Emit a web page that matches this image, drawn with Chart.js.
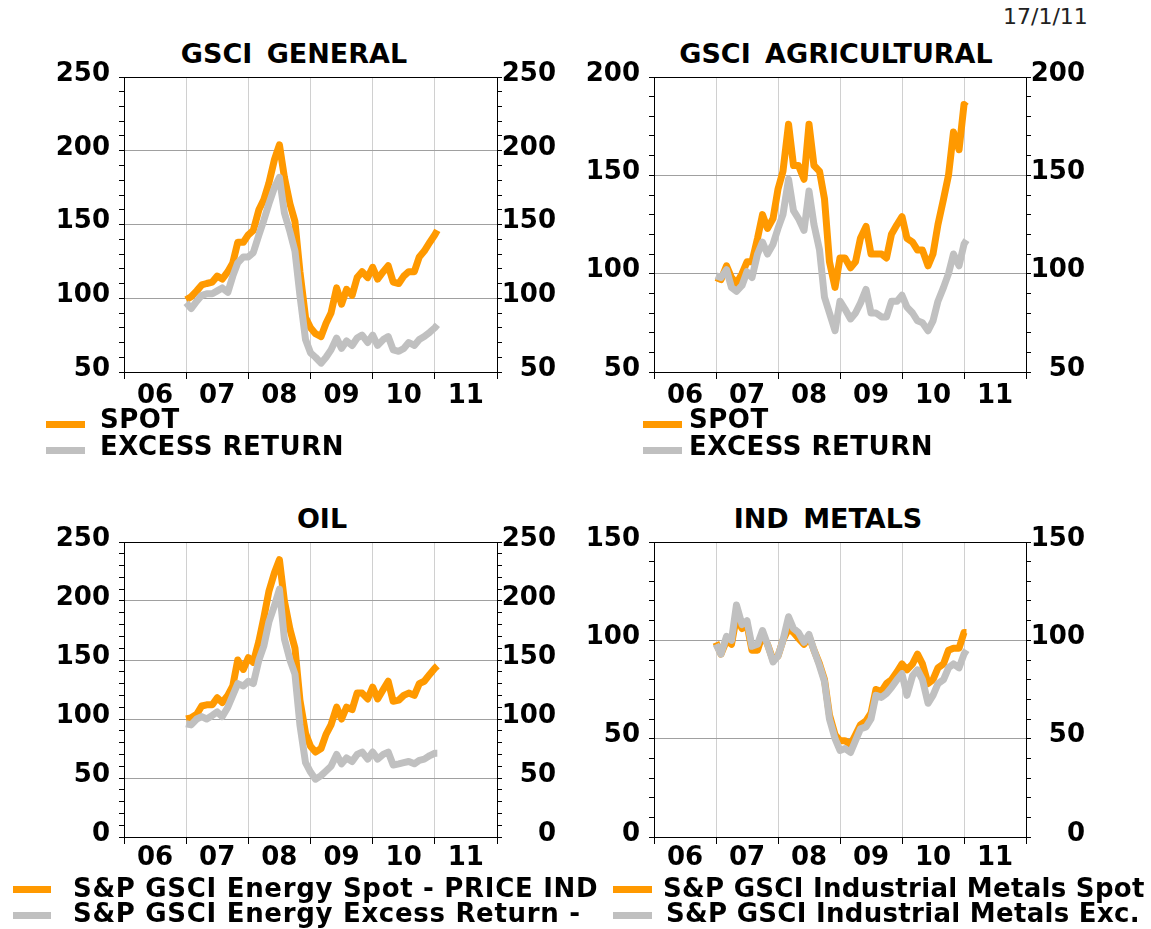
<!DOCTYPE html>
<html>
<head>
<meta charset="utf-8">
<script src="https://cdn.jsdelivr.net/npm/chart.js@4.4.0/dist/chart.umd.min.js"></script>
<style>
  body { margin:0; background:#fff; width:1151px; height:929px; position:relative; overflow:hidden; font-family:'DejaVu Sans', sans-serif; }
  canvas { position:absolute; }
  .title { position:absolute; width:500px; text-align:center; font-weight:bold; font-size:27px; line-height:27px; white-space:nowrap; word-spacing:5px; color:#000; }
  .lg { position:absolute; font-weight:bold; font-size:26px; line-height:26px; white-space:nowrap; letter-spacing:0.5px; color:#000; }
  .bar { position:absolute; height:7px; }
  .date { position:absolute; left:1003px; top:6px; font-size:22px; line-height:22px; color:#222; }
</style>
</head>
<body>
<div class="date">17/1/11</div>

<div class="title" style="left:44px;top:40px">GSCI GENERAL</div>
<div class="title" style="left:586px;top:40px">GSCI AGRICULTURAL</div>
<div class="title" style="left:72px;top:505px">OIL</div>
<div class="title" style="left:578px;top:505px">IND METALS</div>

<canvas id="cGen" width="575" height="380" style="left:0;top:40px"></canvas>
<canvas id="cAgr" width="576" height="380" style="left:575px;top:40px"></canvas>
<canvas id="cOil" width="575" height="380" style="left:0;top:505px"></canvas>
<canvas id="cMet" width="576" height="380" style="left:575px;top:505px"></canvas>

<!-- legends -->
<div class="bar" style="left:46px;top:421px;width:39px;background:#ff9900"></div>
<div class="lg" style="left:100px;top:406px">SPOT</div>
<div class="bar" style="left:46px;top:447px;width:39px;background:#c0c0c0"></div>
<div class="lg" style="left:100px;top:433px">EXCESS RETURN</div>

<div class="bar" style="left:643px;top:421px;width:39px;background:#ff9900"></div>
<div class="lg" style="left:689px;top:406px">SPOT</div>
<div class="bar" style="left:643px;top:447px;width:39px;background:#c0c0c0"></div>
<div class="lg" style="left:689px;top:433px">EXCESS RETURN</div>

<div class="bar" style="left:13px;top:886px;width:38px;background:#ff9900"></div>
<div class="lg" style="left:73px;top:875px;letter-spacing:0.7px">S&amp;P GSCI Energy Spot - PRICE IND</div>
<div class="bar" style="left:13px;top:912px;width:38px;background:#c0c0c0"></div>
<div class="lg" style="left:73px;top:900px;letter-spacing:0.7px">S&amp;P GSCI Energy Excess Return -</div>

<div class="bar" style="left:613px;top:886px;width:39px;background:#ff9900"></div>
<div class="lg" style="left:663px;top:875px;letter-spacing:0.3px">S&amp;P GSCI Industrial Metals Spot</div>
<div class="bar" style="left:613px;top:912px;width:39px;background:#c0c0c0"></div>
<div class="lg" style="left:666px;top:900px;letter-spacing:0.3px">S&amp;P GSCI Industrial Metals Exc.</div>

<script>
// monthly dates (decimal years), shared by all four panels
const months = [
  2007.00, 2007.08, 2007.17, 2007.25, 2007.33, 2007.42, 2007.50, 2007.58, 2007.67, 2007.75, 2007.83, 2007.92,
  2008.00, 2008.08, 2008.17, 2008.25, 2008.33, 2008.42, 2008.50, 2008.58, 2008.67, 2008.75, 2008.83, 2008.92,
  2009.00, 2009.08, 2009.17, 2009.25, 2009.33, 2009.42, 2009.50, 2009.58, 2009.67, 2009.75, 2009.83, 2009.92,
  2010.00, 2010.08, 2010.17, 2010.25, 2010.33, 2010.42, 2010.50, 2010.58, 2010.67, 2010.75, 2010.83, 2010.92,
  2011.00, 2011.04
];
const yearLabels = ['06', '07', '08', '09', '10', '11'];

// GSCI general
const genSpot   = [99, 101, 105, 109, 110, 111, 115, 113, 118, 124, 138, 138, 143, 146, 160, 167, 178, 194, 204, 182, 164, 152, 118, 87,
                   80, 76, 74, 83, 90, 107, 96, 106, 102, 114, 118, 114, 121, 113, 118, 122, 111, 110, 115, 118, 118, 128, 132, 138, 143, 146];
const genExcess = [97, 93, 98, 102, 103, 103, 105, 107, 104, 115, 124, 128, 128, 131, 143, 153, 164, 175, 182, 158, 145, 132, 102, 72,
                   63, 60, 56, 60, 65, 73, 66, 71, 68, 73, 75, 70, 75, 68, 72, 74, 65, 64, 66, 70, 68, 72, 74, 77, 80, 82];

// GSCI agricultural
const agrSpot   = [98, 97, 104, 98, 95, 100, 106, 106, 118, 130, 123, 128, 143, 152, 176, 155, 155, 148, 176, 155, 152, 138, 106, 93,
                   108, 108, 103, 106, 118, 124, 110, 110, 110, 108, 120, 125, 129, 118, 116, 112, 112, 104, 110, 125, 138, 150, 172, 163, 186, 185];
const agrExcess = [99, 98, 102, 93, 91, 94, 101, 98, 110, 116, 110, 115, 123, 130, 148, 132, 128, 122, 142, 125, 112, 88, 80, 71,
                   86, 82, 77, 80, 85, 92, 80, 80, 78, 78, 86, 86, 89, 83, 80, 76, 75, 71, 76, 86, 93, 100, 110, 104, 115, 117];

// Oil (energy)
const oilSpot   = [100, 101, 104, 111, 112, 112, 118, 114, 120, 128, 150, 142, 152, 148, 166, 186, 208, 224, 235, 200, 176, 160, 116, 88,
                   77, 72, 75, 87, 95, 110, 100, 110, 108, 122, 122, 117, 127, 117, 125, 132, 115, 116, 120, 122, 120, 130, 132, 138, 143, 145];
const oilExcess = [96, 95, 100, 102, 100, 103, 106, 102, 110, 120, 130, 128, 132, 130, 150, 162, 182, 196, 210, 168, 150, 138, 95, 63,
                   55, 49, 52, 56, 60, 70, 62, 67, 64, 70, 72, 66, 72, 66, 70, 72, 61, 62, 63, 64, 62, 65, 66, 69, 71, 71];

// Industrial metals
const metSpot   = [99, 93, 100, 98, 112, 106, 108, 95, 95, 103, 98, 90, 92, 100, 106, 104, 101, 98, 102, 95, 88, 80, 62, 52,
                   49, 49, 47, 52, 57, 59, 63, 75, 74, 78, 80, 84, 88, 85, 88, 93, 88, 78, 80, 86, 88, 95, 96, 96, 104, 104];
const metExcess = [98, 93, 102, 100, 118, 108, 110, 97, 98, 105, 98, 89, 92, 100, 112, 106, 104, 99, 103, 95, 87, 79, 60, 50,
                   44, 45, 43, 49, 55, 56, 60, 72, 71, 73, 76, 80, 83, 72, 82, 85, 80, 68, 72, 78, 80, 86, 88, 86, 93, 95];

const ORANGE = '#ff9900';
const GREY = '#c0c0c0';

Chart.defaults.font.family = "'DejaVu Sans', sans-serif";
Chart.defaults.font.size = 26;
Chart.defaults.font.weight = 'bold';
Chart.defaults.color = '#000';

const pts = arr => months.map((m, i) => ({ x: m, y: arr[i] }));

function yTicks(extra) {
  return Object.assign({
    stepSize: 10, autoSkip: false, maxTicksLimit: 100, labelOffset: -3,
    callback: v => (v % 50 === 0 ? v : '')
  }, extra);
}

function makePanel(id, yMin, yMax, spot, excess, pad, xPad) {
  return new Chart(document.getElementById(id), {
    type: 'line',
    data: {
      datasets: [
        { data: pts(spot), borderColor: ORANGE, borderWidth: 7, pointRadius: 0, order: 2, borderJoinStyle: 'round' },
        { data: pts(excess), borderColor: GREY, borderWidth: 7, pointRadius: 0, order: 1, borderJoinStyle: 'round' }
      ]
    },
    options: {
      responsive: false, animation: false, devicePixelRatio: 1,
      layout: { padding: pad },
      plugins: { legend: { display: false }, tooltip: { enabled: false }, title: { display: false } },
      scales: {
        x: {
          type: 'linear', min: 2006, max: 2012,
          afterFit: s => { s.height = 40; },
          border: { color: '#000', width: 1 },
          grid: {
            color: c => (c.tick && c.tick.value > 2006 && c.tick.value < 2012 ? '#d0d0d0' : 'rgba(0,0,0,0)'),
            tickColor: '#000', tickLength: 7
          },
          ticks: {
            stepSize: 1, autoSkip: false, maxRotation: 0, labelOffset: 31, padding: xPad,
            callback: v => (v < 2012 ? yearLabels[v - 2006] : '')
          }
        },
        y: {
          position: 'left', min: yMin, max: yMax,
          afterFit: s => { s.width = 70; },
          border: { color: '#000', width: 1 },
          grid: {
            color: c => {
              const v = c.tick ? c.tick.value : null;
              if (v === yMax) return '#000';
              if (v !== yMin && v % 50 === 0) return '#a0a0a0';
              return 'rgba(0,0,0,0)';
            },
            tickColor: '#000', tickLength: 5
          },
          ticks: yTicks({ padding: 9 })
        },
        y2: {
          position: 'right', min: yMin, max: yMax,
          afterFit: s => { s.width = 59; },
          border: { color: '#000', width: 1 },
          grid: { drawOnChartArea: false, tickColor: '#000', tickLength: 5 },
          ticks: yTicks({ padding: 0, crossAlign: 'far' })
        }
      }
    }
  });
}

makePanel('cGen', 50, 250, genSpot, genExcess, { top: 37, left: 54, right: 19, bottom: 8 }, 2);
makePanel('cAgr', 50, 200, agrSpot, agrExcess, { top: 37, left: 9, right: 66, bottom: 8 }, 2);
makePanel('cOil', 0, 250, oilSpot, oilExcess, { top: 37, left: 54, right: 19, bottom: 8 }, -1);
makePanel('cMet', 0, 150, metSpot, metExcess, { top: 37, left: 9, right: 66, bottom: 8 }, -1);
</script>
</body>
</html>
